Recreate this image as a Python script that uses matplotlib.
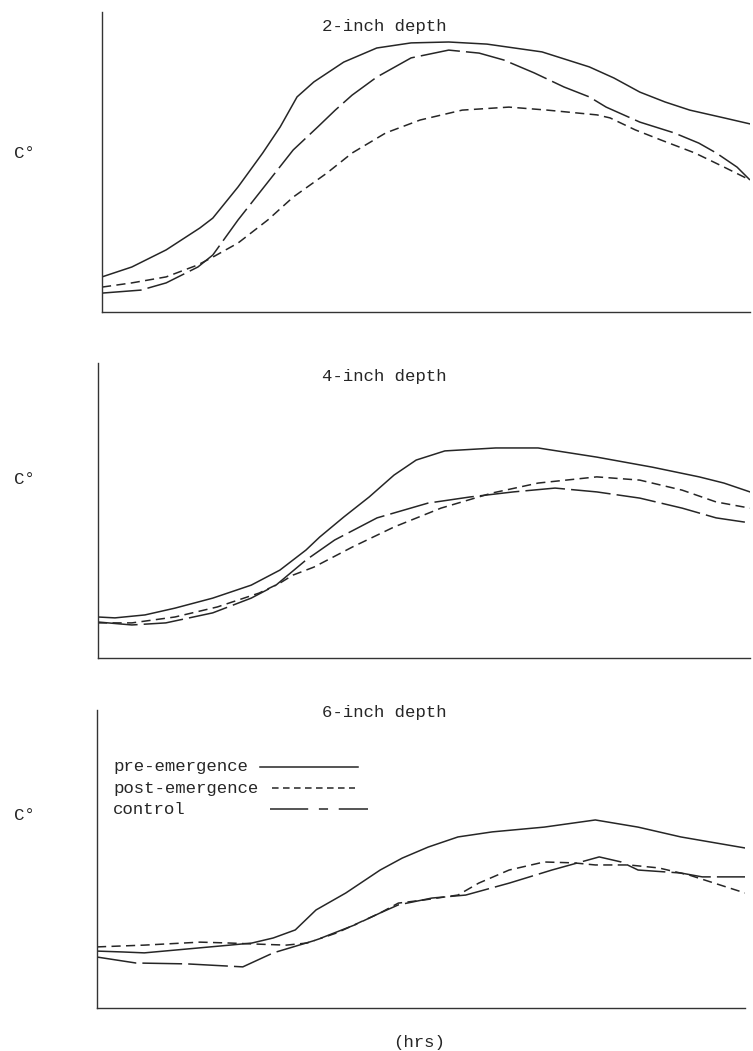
import matplotlib
matplotlib.use('Agg')
import matplotlib.pyplot as plt
from matplotlib.lines import Line2D

# soil temperature traces, time and temperature both in percent of the axis range
depths = ['2-inch depth', '4-inch depth', '6-inch depth']

pre_t = [
    [0, 4.6, 9.9, 15.1, 17.1, 21.0, 24.8, 27.5, 30.1, 32.7, 37.3, 42.4, 47.7,
     53.5, 59.4, 67.9, 75.2, 79.0, 83.0, 86.9, 90.7, 96.0, 100],
    [0, 2.6, 7.2, 11.8, 17.6, 23.5, 27.9, 31.9, 34.0, 37.7, 41.6, 45.4, 48.8,
     53.2, 61.0, 67.5, 76.5, 85.0, 92.2, 96.0, 100],
    [0, 4.0, 7.3, 13.9, 20.5, 23.9, 27.2, 30.6, 33.8, 38.4, 43.7, 47.1, 51.1,
     55.7, 61.0, 69.0, 76.9, 83.5, 90.1, 100],
]
pre_c = [
    [11.7, 15.0, 20.7, 28.0, 31.3, 41.7, 53.0, 61.7, 71.7, 76.7, 83.3, 88.0, 89.7,
     90.0, 89.3, 86.7, 81.7, 78.0, 73.3, 70.0, 67.3, 64.7, 62.7],
    [13.9, 13.6, 14.6, 16.9, 20.3, 24.7, 29.8, 36.6, 41.0, 47.8, 54.6, 62.0, 67.1,
     70.2, 71.2, 71.2, 68.1, 64.7, 61.4, 59.3, 56.3],
    [19.1, 18.8, 18.5, 19.8, 21.1, 21.8, 23.5, 26.2, 32.9, 38.6, 46.3, 50.3, 54.0,
     57.4, 59.1, 60.7, 63.1, 60.7, 57.4, 53.7],
]

post_t = [
    [0, 4.6, 9.9, 14.8, 17.1, 21.0, 25.6, 29.5, 34.7, 38.6, 43.8, 49.1, 55.6,
     62.8, 68.7, 76.4, 78.4, 82.3, 86.3, 91.5, 96.0, 100],
    [0, 5.2, 11.8, 18.3, 24.7, 27.9, 29.9, 33.1, 39.0, 45.4, 52.6, 60.4, 67.5,
     76.5, 83.1, 89.6, 94.8, 100],
    [0, 7.3, 15.9, 20.5, 23.9, 29.2, 32.4, 37.0, 43.7, 46.5, 50.3, 55.7, 58.9,
     63.6, 69.0, 73.6, 76.9, 82.1, 86.7, 91.4, 100],
]
post_c = [
    [8.3, 9.7, 11.7, 15.7, 18.3, 23.0, 30.7, 38.3, 46.3, 53.0, 59.7, 64.0, 67.3,
     68.3, 67.3, 65.7, 64.7, 60.7, 57.3, 53.0, 48.3, 44.0],
    [11.9, 11.9, 13.9, 17.3, 22.0, 25.4, 28.1, 30.8, 37.6, 44.4, 50.8, 55.9, 59.3,
     61.4, 60.3, 56.9, 52.9, 50.8],
    [20.5, 21.1, 22.1, 21.8, 21.5, 21.1, 21.8, 25.2, 31.9, 35.2, 36.2, 37.9, 41.9,
     46.3, 49.0, 48.7, 48.0, 48.0, 47.0, 44.6, 38.6],
]

ctrl_t = [
    [0, 6.0, 9.9, 14.8, 17.1, 21.0, 25.6, 29.5, 33.3, 36.0, 38.6, 42.4, 47.7,
     53.5, 58.2, 62.0, 66.7, 71.3, 75.2, 77.8, 83.0, 88.3, 92.1, 94.8, 98.0, 100],
    [0, 5.2, 10.4, 17.6, 23.5, 27.3, 31.9, 36.3, 42.8, 50.6, 57.1, 63.7, 70.1,
     76.5, 83.1, 89.6, 94.8, 100],
    [0, 6.0, 13.9, 22.5, 27.2, 33.8, 39.8, 43.7, 46.5, 51.7, 56.9, 63.6, 70.2,
     77.5, 80.9, 83.5, 90.1, 93.4, 100],
]
ctrl_c = [
    [6.3, 7.3, 9.7, 15.0, 19.0, 30.7, 43.3, 54.0, 61.7, 67.3, 72.3, 78.3, 84.7,
     87.3, 86.3, 84.0, 79.7, 75.0, 71.7, 68.3, 63.3, 59.7, 56.3, 53.0, 48.3, 44.0],
    [12.2, 11.2, 11.9, 15.3, 20.3, 24.7, 33.2, 40.0, 47.5, 52.5, 54.6, 56.3, 57.6,
     56.3, 54.2, 50.8, 47.5, 45.8],
    [17.1, 15.1, 14.8, 13.8, 18.5, 22.8, 27.9, 31.9, 34.6, 36.9, 37.9, 41.9, 46.3,
     50.7, 49.0, 46.3, 45.3, 44.0, 44.0],
]

labels = ['pre-emergence', 'post-emergence', 'control']

INK = '#262626'
plt.rcParams['font.family'] = ['Liberation Mono', 'DejaVu Sans Mono']
FS = 12.5

W, H = 753, 1051
fig = plt.figure(figsize=(W / 100, H / 100), dpi=100)
fig.patch.set_facecolor('white')

# axes boxes in pixels: left, right, top, bottom
boxes = [(102, 750, 12, 312), (98, 750, 363, 658), (97, 745, 710, 1008)]
title_y = [27, 377, 713]
cdeg_y = [153, 480, 815]

post_dash = (6, 3.5)
ctrl_dash = (26, 4)
LW = 1.1

for i, (l, r, t, b) in enumerate(boxes):
    ax = fig.add_axes([l / W, 1 - b / H, (r - l) / W, (b - t) / H])
    ax.plot(pre_t[i], pre_c[i], color=INK, lw=LW, solid_joinstyle='round')
    ax.plot(post_t[i], post_c[i], color=INK, lw=LW, dashes=post_dash)
    ax.plot(ctrl_t[i], ctrl_c[i], color=INK, lw=LW, dashes=ctrl_dash)
    ax.set_xlim(0, 100)
    ax.set_ylim(0, 100)
    ax.set_xticks([])
    ax.set_yticks([])
    for s in ['top', 'right']:
        ax.spines[s].set_visible(False)
    for s in ['left', 'bottom']:
        ax.spines[s].set_color('#333333')
        ax.spines[s].set_linewidth(1.0)
    fig.text(384 / W, 1 - title_y[i] / H, depths[i], ha='center', va='center',
             fontsize=FS, color=INK)
    fig.text(24 / W, 1 - cdeg_y[i] / H, 'C°', ha='center', va='center',
             fontsize=FS, color=INK)

# typed key in the bottom panel
key_rows = [767, 788, 809]
key_lines = [(260, 358, None), (272, 355, (4.3, 2.9)), (270, 368, (25, 7, 6, 7))]
for lab, y, (x0, x1, d) in zip(labels, key_rows, key_lines):
    fig.text(113 / W, 1 - y / H, lab, ha='left', va='center', fontsize=FS, color=INK)
    ln = Line2D([x0 / W, x1 / W], [1 - y / H, 1 - y / H], transform=fig.transFigure,
                color=INK, lw=LW)
    if d is not None:
        ln.set_dashes(d)
    fig.add_artist(ln)

fig.text(419 / W, 1 - 1043 / H, '(hrs)', ha='center', va='center', fontsize=FS,
         color=INK)

fig.savefig('out.png', dpi=100, facecolor='white')
